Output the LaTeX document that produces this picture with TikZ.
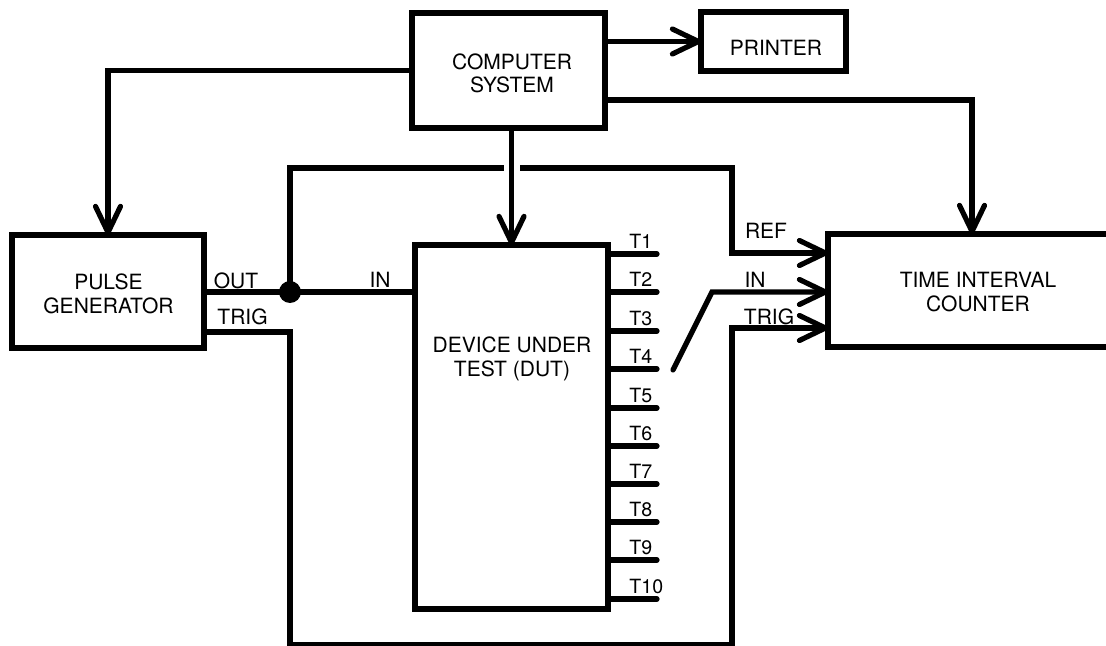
\documentclass[tikz,border=0pt]{standalone}
\usepackage{fontspec}
\setmainfont{TeX Gyre Heros}
\usetikzlibrary{arrows.meta}
\begin{document}
\begin{tikzpicture}[x=0.5pt,y=-0.5pt,
  box/.style={draw, line width=2.6pt, inner sep=0pt, outer sep=0pt},
  wire/.style={line width=2.6pt},
  arr/.style={-{Straight Barb[length=13pt,width=12.5pt,round]}},
  lbl/.style={font=\fontsize{10.5}{11.7}\selectfont, inner sep=0pt, align=center},
  pinlbl/.style={font=\fontsize{9.8}{11}\selectfont, inner sep=0pt, anchor=west}]
\useasboundingbox (0,0) rectangle (1106,646);
\clip (0,0) rectangle (1106,646);
% boxes
\node[box, minimum width=96.5pt, minimum height=57.5pt] (comp) at (508.5,70.5) {};
\node[lbl] (compt) at (512,73.5) {COMPUTER\\SYSTEM};
\node[box, minimum width=72.5pt, minimum height=29.5pt] (prn) at (773.5,41.5) {};
\node[lbl] (prnt) at (776,48) {PRINTER};
\node[box, minimum width=96pt, minimum height=56.5pt] (pg) at (108,291.5) {};
\node[lbl] (pgt) at (108.5,294) {PULSE\\GENERATOR};
\node[box, minimum width=96.5pt, minimum height=182pt] (dut) at (511.5,427) {};
\node[lbl] (dutt) at (512,359) {DEVICE UNDER\\TEST (DUT)};
\node[box, minimum width=150pt, minimum height=56.5pt] (tic) at (978,290.5) {};
\node[lbl] (tict) at (978,292) {TIME INTERVAL\\COUNTER};
% junction
\node[circle, fill, inner sep=0pt, minimum size=11pt] (jn) at (290,292) {};
\coordinate (swl) at (673,370);
\coordinate (swh) at (712,292);
% connectors from computer
\draw[wire,arr] (comp.east |- prn.west) -- (prn.west);
\draw[wire,arr] (comp.west) -| (pg.north);
\draw[wire,arr] (comp.east |- 0,100) -| ([xshift=-3pt]tic.north);
% loop to REF
\draw[wire,arr] (jn.center) |- (732,168) |- (tic.west |- 0,253);
\fill[white] (504,158) rectangle (520,178);
\draw[wire,arr] (comp.south -| dut.north) -- (dut.north);
% OUT -> DUT IN
\draw[wire] (pg.east |- jn) -- (jn.center) -- (dut.west |- jn);
% switch -> IN
\draw[wire,arr,line cap=round] (swl) -- (swh) -- (tic.west |- swh);
% TRIG loop
\draw[wire,arr] (pg.east |- 0,332) -| (290,645) -| (732,328) -- (tic.west |- 0,328);
% pins
\foreach \i/\y in {1/254,2/292,3/331,4/369,5/408,6/446,7/484,8/522,9/560,10/599}{
  \coordinate (t\i) at (657,\y);
  \draw[wire,line cap=round] (dut.east |- t\i) -- (t\i);
  \node[pinlbl] (tl\i) at (629,\y-12.5) {T\i};
}
% labels
\node[lbl] (outl) at (236,280.5) {OUT};
\node[lbl] (trigl) at (242.5,316.5) {TRIG};
\node[lbl] (inl) at (380,280) {IN};
\node[lbl] (refl) at (766,230.5) {REF};
\node[lbl] (inr) at (755,280) {IN};
\node[lbl] (trigr) at (769,316.5) {TRIG};
\end{tikzpicture}
\end{document}
